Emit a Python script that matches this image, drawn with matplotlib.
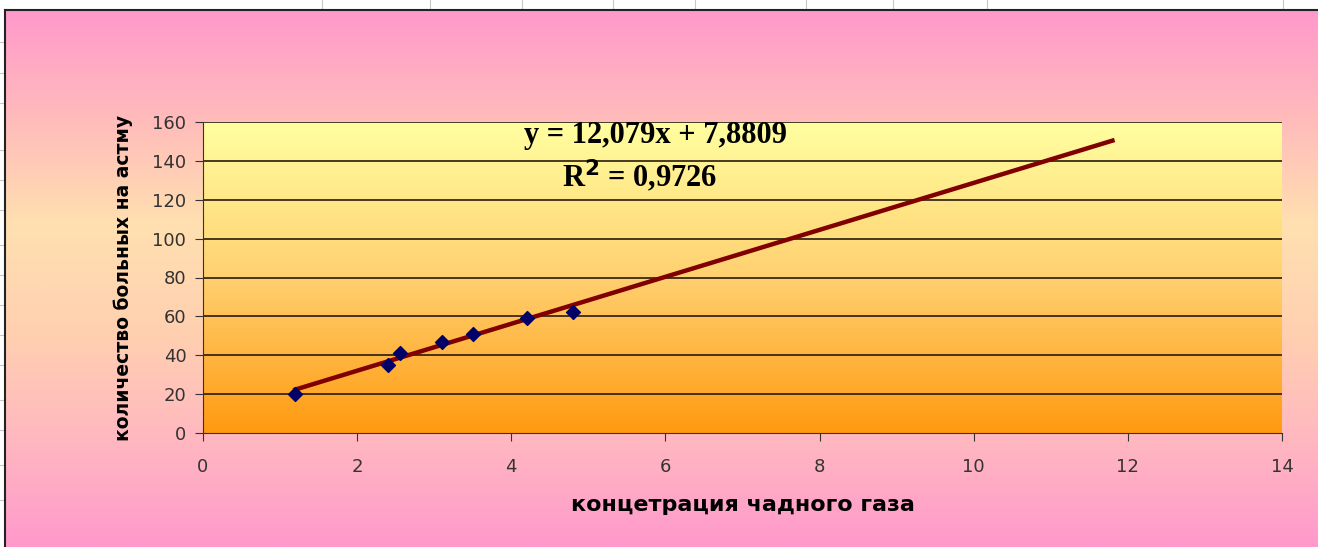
import numpy as np
import matplotlib.pyplot as plt
from matplotlib.colors import LinearSegmentedColormap

# data
konc = [1.2, 2.4, 2.55, 3.1, 3.5, 4.2, 4.8]          # концетрация чадного газа
bolnye = [20, 35, 41, 47, 51, 59, 62]                # количество больных на астму
slope = 12.079
intercept = 7.8809
r2 = 0.9726
trend_end = 11.8

xticks = [0, 2, 4, 6, 8, 10, 12, 14]
yticks = [0, 20, 40, 60, 80, 100, 120, 140, 160]

W, H = 1318, 547
fig = plt.figure(figsize=(W / 100, H / 100), dpi=100)

# outer chart area (pink gradient) with white strip like the spreadsheet around it
bg = fig.add_axes([0, 0, 1, 1])
bg.set_xlim(0, W)
bg.set_ylim(H, 0)
bg.axis('off')
bg.add_patch(plt.Rectangle((0, 0), W, H, color='white', zorder=0))
for xv in [322, 430, 522, 613, 695, 806, 893, 987, 1283]:
    bg.plot([xv, xv], [0, 10], color='#c8c8c8', lw=0.8)
for yv in [42, 73, 103, 150, 180, 210, 245, 275, 305, 335, 365, 400, 430, 465, 500]:
    bg.plot([0, 5], [yv, yv], color='#c8c8c8', lw=0.8)
cmap_out = LinearSegmentedColormap.from_list(
    'out', ['#ff99cc', '#ffbbbb', '#ffe0b0', '#ffd0b0', '#ffb8c0', '#ff99cc'])
grad = np.linspace(0, 1, 256).reshape(-1, 1)
bg.imshow(grad, cmap=cmap_out, extent=[5, W, H, 10], aspect='auto', zorder=1)
bg.plot([5, W], [10, 10], color='#222222', lw=1.5, zorder=2)
bg.plot([5, 5], [10, H], color='#222222', lw=1.5, zorder=2)

# plot area
ax = fig.add_axes([203 / W, 1 - 433 / H, (1282 - 203) / W, (433 - 122) / H])
cmap_in = LinearSegmentedColormap.from_list('in', ['#ffffa0', '#ffd070', '#ff9a10'])
ax.imshow(grad, cmap=cmap_in, extent=[0, 14, 0, 160], aspect='auto', zorder=0)
ax.set_xlim(0, 14)
ax.set_ylim(0, 160)

for yv in yticks[1:]:
    ax.axhline(yv, color='#2a1a10', lw=1.2, zorder=1)

xt = np.array([konc[0], trend_end])
ax.plot(xt, slope * xt + intercept, color='#800000', lw=3.2, zorder=3)
ax.scatter(konc, bolnye, marker='D', s=50, color='#000066', zorder=4)

ax.set_xticks(xticks)
ax.set_yticks(yticks)
ax.tick_params(direction='out', length=6, color='#333333', labelsize=13,
               labelcolor='#333333')
ax.tick_params(axis='x', pad=12)
ax.tick_params(axis='y', pad=6)
for s in ['top', 'right']:
    ax.spines[s].set_visible(False)
ax.spines['left'].set_color('#333333')
ax.spines['bottom'].set_color('#333333')

ax.set_xlabel('концетрация чадного газа', family='DejaVu Sans', weight='bold',
              fontsize=16, labelpad=14)
ax.set_ylabel('количество больных на астму', family='DejaVu Sans', weight='bold',
              fontsize=13.5, labelpad=14)

eq = 'y = ' + f'{slope:.3f}'.replace('.', ',') + 'x + ' + f'{intercept:.4f}'.replace('.', ',')
ax.text(655, 135, eq, transform=bg.transData, ha='center', va='center',
        family='Liberation Serif', weight='bold', fontsize=22, zorder=5)
ax.text(640, 176, 'R$^\\mathbf{2}$ = ' + f'{r2:.4f}'.replace('.', ','),
        transform=bg.transData, ha='center', va='center',
        family='Liberation Serif', weight='bold', fontsize=22, zorder=5)

fig.savefig('out.png', dpi=100)
